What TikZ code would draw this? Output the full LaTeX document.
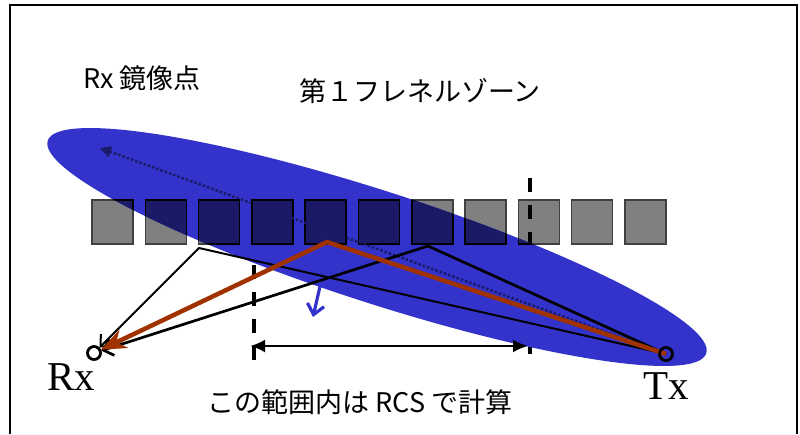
\documentclass[tikz,border=0pt]{standalone}
\usepackage{fontspec}
\setmainfont{Liberation Serif}
\newfontfamily\jpfont{Noto Sans CJK JP}
\usetikzlibrary{arrows.meta}
\definecolor{ellblue}{RGB}{51,51,204}
\definecolor{navyq}{RGB}{26,26,102}
\definecolor{rayred}{RGB}{160,50,0}
\definecolor{sqgray}{RGB}{128,128,128}
\begin{document}
\begin{tikzpicture}[x=1pt,y=-1pt,
  sq/.style={rectangle, minimum width=41pt, minimum height=44pt, inner sep=0pt, draw=black!75, line width=1.5pt, fill=sqgray},
  sqin/.style={rectangle, minimum width=41pt, minimum height=44pt, inner sep=0pt, draw=black, line width=1.5pt, fill=navyq},
  port/.style={circle, draw=black, line width=2.5pt, minimum size=13pt, inner sep=0pt},
  jp/.style={font=\jpfont\fontsize{27pt}{30pt}\selectfont, inner sep=0pt},
  lbl/.style={font=\fontsize{41pt}{45pt}\selectfont, inner sep=0pt},
  dashv/.style={line width=3.5pt, dash pattern=on 14pt off 13pt},
  barb/.style={-{Straight Barb[length=9pt,width=17pt]}},
]
\useasboundingbox (0,0) rectangle (800,434);
\fill[white] (0,0) rectangle (800,434);
% frame
\draw[line width=2.5pt] (10,434) -- (10,5) -- (797,5) -- (797,434);

% squares (gray)
\foreach \i in {0,...,10} {
  \node[sq] (s\i) at ({112.5+53.3*\i},222) {};
}

% coordinates
\coordinate (d1a) at (254,265);
\coordinate (d1b) at (254,363);
\coordinate (d2a) at (530,178);
\coordinate (d2b) at (530,362);

% right dashed line (under the ellipse)
\draw[dashv] (d2a) -- (d2b);

% Fresnel zone ellipse
\fill[ellblue, rotate around={-17.9:(377,247)}] (377,247) ellipse [x radius=346pt, y radius=56pt];

% squares inside the ellipse appear dark
\begin{scope}
  \clip[rotate around={-17.9:(377,247)}] (377,247) ellipse [x radius=346pt, y radius=56pt];
  \foreach \i in {0,...,10} {
    \node[sqin] at ({112.5+53.3*\i},222) {};
  }
\end{scope}

% left dashed line
\draw[dashv] (d1a) -- (d1b);

% ports
\node[port] (rx) at (94,353) {};
\node[port] (tx) at (666,354) {};

% reflection points
\coordinate (p1) at (199,248);
\coordinate (p2) at (327,242);
\coordinate (p3) at (428,246);
\coordinate (img) at (100,148);

% dotted line to mirror image point
\draw[navyq, line width=2.5pt, dash pattern=on 2.5pt off 2pt, -{Triangle[length=11pt,width=11pt]}] (tx.center) -- (img);

% rays
\draw[line width=2pt, barb, line join=miter] (tx.center) -- (p1) -- (rx);
\draw[line width=2.7pt, barb, line join=miter] (tx.center) -- (p3) -- (rx);
\draw[rayred, line width=4.5pt, line join=miter, -{Stealth[length=25pt,width=20pt,inset=8pt]}] (tx.center) -- (p2) -- (rx);

% redraw port circles on top
\node[port] at (94,353) {};
\node[port] at (666,354) {};

% small blue arrow
\coordinate (b1) at (321,282);
\coordinate (b2) at (313,317);
\draw[ellblue, line width=3.2pt, -{Straight Barb[length=10pt,width=17pt]}] (b1) -- (b2);

% range arrow
\coordinate (ha) at (250,346);
\coordinate (hb) at (528,346);
\draw[line width=2.5pt, {Latex[length=15pt,width=13pt]}-{Latex[length=15pt,width=13pt]}] (ha) -- (hb);

% texts
\node[jp, anchor=base west] (t1) at (83,88) {Rx 鏡像点};
\node[jp, anchor=base] (t2) at (420,101) {第１フレネルゾーン};
\node[jp, anchor=base] (t3) at (360,412) {この範囲内は RCS で計算};
\node[lbl, anchor=base] (rxl) at (71,390) {Rx};
\node[lbl, anchor=base] (txl) at (666,399) {Tx};
\end{tikzpicture}
\end{document}
